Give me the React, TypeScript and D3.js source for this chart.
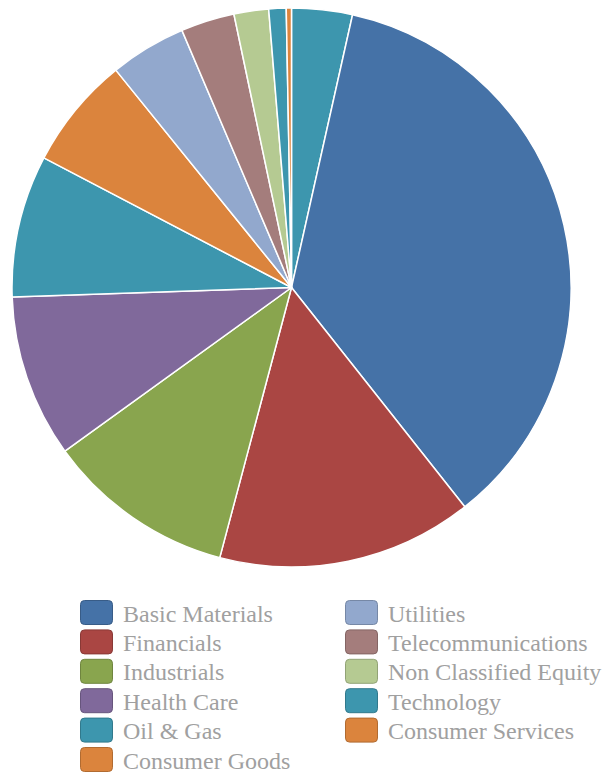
import React from 'react';
import * as d3 from 'd3';

// slice order clockwise from 12 o'clock; the first slice has no legend entry
const sectors = [
  'Other',
  'Basic Materials',
  'Financials',
  'Industrials',
  'Health Care',
  'Oil & Gas',
  'Consumer Goods',
  'Utilities',
  'Telecommunications',
  'Non Classified Equity',
  'Technology',
  'Consumer Services',
];
const weights = [3.5, 35.8, 14.75, 10.9, 9.4, 8.2, 6.5, 4.4, 3.1, 2.0, 1.0, 0.3];
const sectorColors = [
  '#3D96AE', '#4572A7', '#AA4643', '#89A54E', '#80699B', '#3D96AE',
  '#DB843D', '#92A8CD', '#A47D7C', '#B5CA92', '#3D96AE', '#DB843D',
];
const legendHidden = ['Other'];

const W = 602;
const H = 776;
const cx = 291.5;
const cy = 287.5;
const radius = 279.5;

export default function App() {
  const rows = sectors.map((name, i) => ({ name, value: weights[i], color: sectorColors[i] }));

  const pie = d3.pie<any>()
    .sort(null)
    .value(d => d.value)
    .startAngle(0)
    .endAngle(2 * Math.PI);

  const arc = d3.arc<any>()
    .innerRadius(0)
    .outerRadius(radius);

  const slices = pie(rows);

  const legendItems = rows.filter(r => !legendHidden.includes(r.name));
  const perCol = 6;
  const colX = [80, 345];
  const rowY = d3.scaleLinear().domain([0, 1]).range([600, 629.4]);

  return (
    <svg width={W} height={H} style={{ position: 'absolute', left: 0, top: 0 }}>
      <g transform={`translate(${cx},${cy})`}>
        {slices.map((s, i) => (
          <path
            key={i}
            d={arc(s) || ''}
            fill={s.data.color}
            stroke="#fff"
            strokeWidth={1.5}
            strokeLinejoin="round"
          />
        ))}
      </g>
      {legendItems.map((d, i) => {
        const x = colX[Math.floor(i / perCol)];
        const y = rowY(i % perCol);
        return (
          <rect
            key={'sw' + d.name}
            x={x + 0.5}
            y={y + 0.5}
            width={32}
            height={24}
            rx={4}
            fill={d.color}
            stroke={d3.color(d.color)!.darker(0.6).toString()}
            strokeWidth={1}
          />
        );
      })}
      {legendItems.map((d, i) => {
        const x = colX[Math.floor(i / perCol)];
        const y = rowY(i % perCol);
        return (
          <text key={'tx' + d.name} x={x + 43} y={y + 21.5} fontSize={24} fill="#a0a0a0" style={{ fontFamily: 'Liberation Serif' }}>
            {d.name}
          </text>
        );
      })}
    </svg>
  );
}
